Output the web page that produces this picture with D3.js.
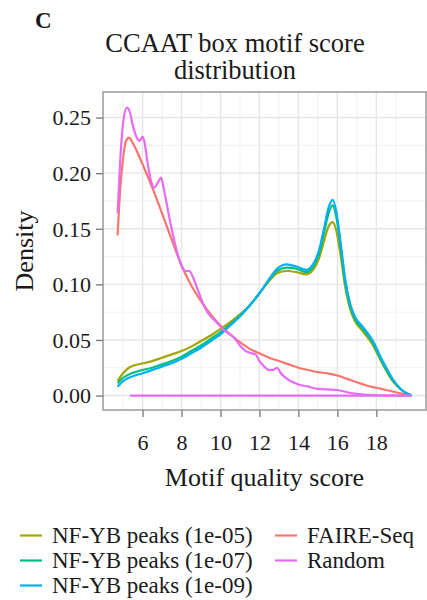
<!DOCTYPE html>
<html>
<head>
<meta charset="utf-8">
<script src="https://cdn.jsdelivr.net/npm/d3@7"></script>
<style>
  body { margin: 0; background: #fff; }
  #chart { width: 427px; height: 600px; }
  text { font-family: "Liberation Serif", "DejaVu Serif", serif; fill: #1a1a1a; }
</style>
</head>
<body>
<div id="chart"></div>
<script>
/* DATA */
var xTicks = [6, 8, 10, 12, 14, 16, 18];
var yTicks = [0.00, 0.05, 0.10, 0.15, 0.20, 0.25];

var seriesNames = ["NF-YB peaks (1e-05)", "NF-YB peaks (1e-07)", "NF-YB peaks (1e-09)", "FAIRE-Seq", "Random"];
var seriesColors = ["#A3A500", "#00BF7D", "#00B0F6", "#F8766D", "#E76BF3"];

var nfyb05 = [[4.72,0.013],[5.0,0.020],[5.3,0.025],[5.55,0.027],[6.05,0.029],[6.5,0.031],[7.0,0.034],[7.5,0.037],[8.0,0.040],[8.5,0.044],[9.0,0.049],[9.5,0.054],[10.0,0.060],[10.5,0.066],[11.0,0.073],[11.5,0.081],[12.0,0.092],[12.5,0.103],[12.9,0.110],[13.4,0.112],[13.9,0.111],[14.4,0.109],[14.75,0.113],[15.05,0.123],[15.3,0.138],[15.55,0.152],[15.76,0.156],[15.95,0.148],[16.15,0.128],[16.4,0.098],[16.65,0.078],[16.9,0.067],[17.3,0.058],[17.8,0.046],[18.3,0.029],[18.8,0.014],[19.3,0.005],[19.75,0.000]];
var nfyb07 = [[4.72,0.011],[5.0,0.016],[5.3,0.019],[5.6,0.021],[6.0,0.023],[6.5,0.025],[7.0,0.028],[7.5,0.031],[8.0,0.035],[8.5,0.040],[9.0,0.045],[9.5,0.051],[10.0,0.057],[10.5,0.064],[11.0,0.072],[11.5,0.081],[12.0,0.092],[12.5,0.104],[12.9,0.112],[13.4,0.115],[13.9,0.114],[14.4,0.111],[14.75,0.116],[15.05,0.127],[15.3,0.145],[15.55,0.164],[15.76,0.171],[15.95,0.160],[16.15,0.136],[16.4,0.102],[16.65,0.081],[16.9,0.069],[17.3,0.060],[17.8,0.048],[18.3,0.030],[18.8,0.015],[19.3,0.005],[19.8,0.000]];
var nfyb09 = [[4.72,0.008],[5.0,0.013],[5.3,0.016],[5.6,0.018],[6.0,0.020],[6.5,0.023],[7.0,0.026],[7.5,0.029],[8.0,0.033],[8.5,0.038],[9.0,0.043],[9.5,0.049],[10.0,0.055],[10.5,0.063],[11.0,0.071],[11.5,0.081],[12.0,0.092],[12.5,0.105],[12.9,0.114],[13.4,0.118],[13.9,0.116],[14.4,0.113],[14.75,0.118],[15.05,0.130],[15.3,0.149],[15.55,0.169],[15.76,0.176],[15.95,0.165],[16.15,0.140],[16.4,0.105],[16.65,0.083],[16.9,0.071],[17.3,0.062],[17.8,0.050],[18.3,0.032],[18.8,0.016],[19.3,0.005],[19.8,0.000]];
var faire = [[4.72,0.144],[4.85,0.185],[5.0,0.213],[5.15,0.229],[5.3,0.232],[5.5,0.227],[6.0,0.208],[6.5,0.187],[7.0,0.164],[7.5,0.140],[8.0,0.117],[8.5,0.099],[9.0,0.085],[9.5,0.073],[10.0,0.063],[10.5,0.055],[11.0,0.048],[11.5,0.042],[12.0,0.038],[12.5,0.034],[13.0,0.031],[13.5,0.028],[14.0,0.025],[14.5,0.023],[15.0,0.021],[15.5,0.020],[16.0,0.018],[16.5,0.015],[17.0,0.012],[17.5,0.009],[18.0,0.007],[18.5,0.005],[19.0,0.003],[19.5,0.001],[19.8,0.000]];
var random = [[4.72,0.164],[4.85,0.210],[5.0,0.245],[5.2,0.259],[5.35,0.255],[5.5,0.243],[5.7,0.232],[5.85,0.229],[6.0,0.233],[6.1,0.228],[6.25,0.210],[6.45,0.192],[6.6,0.187],[6.8,0.192],[6.95,0.196],[7.1,0.185],[7.4,0.158],[7.7,0.134],[8.0,0.117],[8.2,0.112],[8.4,0.112],[8.6,0.106],[8.9,0.092],[9.2,0.079],[9.5,0.071],[9.8,0.066],[10.1,0.060],[10.4,0.056],[10.7,0.052],[11.0,0.045],[11.3,0.040],[11.6,0.038],[11.8,0.037],[12.0,0.031],[12.2,0.027],[12.5,0.023],[12.7,0.023],[12.9,0.025],[13.1,0.020],[13.5,0.014],[14.0,0.010],[14.5,0.008],[15.0,0.006],[15.5,0.0055],[16.0,0.005],[16.5,0.003],[17.0,0.0015],[17.5,0.0007],[18.5,0.0002],[19.8,0.000]];
var randomFloor = [[5.35,0.000],[19.8,0.000]];

var seriesData = [nfyb05, nfyb07, nfyb09, faire, random];

// Setup svg
var width = 427, height = 600;
var svg = d3.select("#chart")
    .append("svg")
    .attr("width", width)
    .attr("height", height);

svg.append("rect").attr("width", width).attr("height", height).attr("fill", "#fff");

var panel = { left: 103, right: 426, top: 92, bottom: 410 };

// Scales (ggplot style 5% padding)
var x = d3.scaleLinear().domain([3.97, 20.55]).range([panel.left, panel.right]);
var y = d3.scaleLinear().domain([-0.013, 0.273]).range([panel.bottom, panel.top]);

// Grid lines
var grid = svg.append("g").attr("id", "grid");
var xMinor = d3.range(5, 20, 2);
var yMinor = d3.range(0.025, 0.27, 0.05);

grid.selectAll(".xminor").data(xMinor).enter().append("line")
    .attr("x1", function(d) { return x(d); }).attr("x2", function(d) { return x(d); })
    .attr("y1", panel.top).attr("y2", panel.bottom)
    .attr("stroke", "#ededed").attr("stroke-width", 0.7);
grid.selectAll(".yminor").data(yMinor).enter().append("line")
    .attr("y1", function(d) { return y(d); }).attr("y2", function(d) { return y(d); })
    .attr("x1", panel.left).attr("x2", panel.right)
    .attr("stroke", "#ededed").attr("stroke-width", 0.7);
grid.selectAll(".xmajor").data(xTicks).enter().append("line")
    .attr("x1", function(d) { return x(d); }).attr("x2", function(d) { return x(d); })
    .attr("y1", panel.top).attr("y2", panel.bottom)
    .attr("stroke", "#e6e6e6").attr("stroke-width", 1.4);
grid.selectAll(".ymajor").data(yTicks).enter().append("line")
    .attr("y1", function(d) { return y(d); }).attr("y2", function(d) { return y(d); })
    .attr("x1", panel.left).attr("x2", panel.right)
    .attr("stroke", "#e6e6e6").attr("stroke-width", 1.4);

// Density lines
var line = d3.line()
    .x(function(d) { return x(d[0]); })
    .y(function(d) { return y(d[1]); })
    .curve(d3.curveMonotoneX);

var lines = svg.append("g").attr("id", "lines");
lines.append("path")
    .attr("d", line(randomFloor))
    .attr("fill", "none").attr("stroke", seriesColors[4]).attr("stroke-width", 2.2);

// draw order: FAIRE, 1e-05, 1e-07, 1e-09, Random
[3, 0, 1, 2, 4].forEach(function(i) {
    lines.append("path")
        .attr("d", line(seriesData[i]))
        .attr("fill", "none")
        .attr("stroke", seriesColors[i])
        .attr("stroke-width", 2.2)
        .attr("stroke-linejoin", "round");
});

// Panel border
svg.append("rect")
    .attr("x", panel.left).attr("y", panel.top)
    .attr("width", panel.right - panel.left).attr("height", panel.bottom - panel.top)
    .attr("fill", "none").attr("stroke", "#9a9a9a").attr("stroke-width", 1.5);

// Axes
var xAxis = svg.append("g")
    .attr("transform", "translate(0," + panel.bottom + ")")
    .call(d3.axisBottom(x).tickValues(xTicks).tickSize(7).tickPadding(17).tickFormat(d3.format("d")));
var yAxis = svg.append("g")
    .attr("transform", "translate(" + panel.left + ",0)")
    .call(d3.axisLeft(y).tickValues(yTicks).tickSize(7).tickPadding(5).tickFormat(d3.format(".2f")));

[xAxis, yAxis].forEach(function(ax) {
    ax.select(".domain").remove();
    ax.selectAll(".tick line").attr("stroke", "#777").attr("stroke-width", 1.3);
    ax.selectAll(".tick text")
        .attr("fill", "#1a1a1a")
        .style("font-family", "'Liberation Serif', serif")
        .style("font-size", "22px");
});
yAxis.selectAll(".tick text").attr("dy", "0.33em");
xAxis.selectAll(".tick text").attr("dy", "0.71em");

// Titles
svg.append("text")
    .attr("x", 35).attr("y", 28)
    .style("font-size", "23px").style("font-weight", "bold")
    .text("C");

svg.append("text")
    .attr("x", 235).attr("y", 52)
    .attr("text-anchor", "middle")
    .style("font-size", "26.5px")
    .text("CCAAT box motif score");
svg.append("text")
    .attr("x", 235).attr("y", 79)
    .attr("text-anchor", "middle")
    .style("font-size", "26.5px")
    .text("distribution");

svg.append("text")
    .attr("x", (panel.left + panel.right) / 2).attr("y", 486)
    .attr("text-anchor", "middle")
    .style("font-size", "26px")
    .text("Motif quality score");

svg.append("text")
    .attr("transform", "translate(33," + ((panel.top + panel.bottom) / 2) + ") rotate(-90)")
    .attr("text-anchor", "middle")
    .style("font-size", "26px")
    .text("Density");

// Legend
var legendPos = [
    { col: 0, row: 0 }, { col: 0, row: 1 }, { col: 0, row: 2 },
    { col: 1, row: 0 }, { col: 1, row: 1 }
];
var colX = [20, 275];
var legend = svg.append("g").attr("id", "legend");
seriesNames.forEach(function(name, i) {
    var p = legendPos[i];
    var gx = colX[p.col];
    var gy = 535.5 + p.row * 25;
    legend.append("line")
        .attr("x1", gx).attr("x2", gx + 22)
        .attr("y1", gy).attr("y2", gy)
        .attr("stroke", seriesColors[i]).attr("stroke-width", 2.2);
    legend.append("text")
        .attr("x", gx + 32).attr("y", gy + 7.5)
        .style("font-size", "23px")
        .text(name);
});
</script>
</body>
</html>
